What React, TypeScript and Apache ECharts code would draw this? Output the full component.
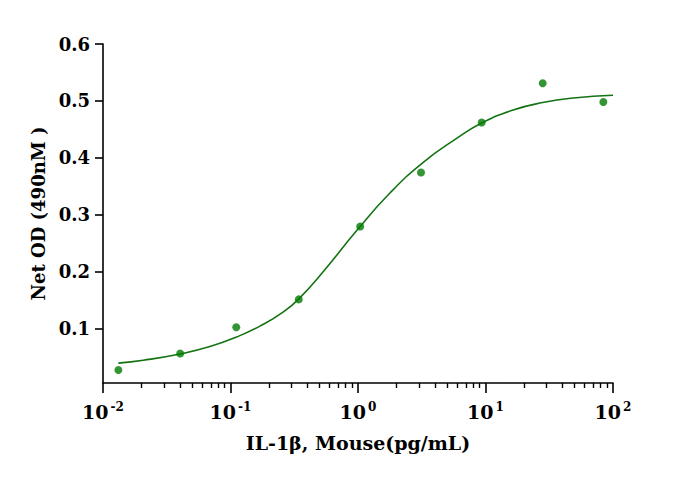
import React, { useEffect, useRef } from 'react';
import * as echarts from 'echarts';

// Measured points
const concentrations = [0.0132, 0.0403, 0.111, 0.343, 1.04, 3.12, 9.33, 28.1, 84];
const netOD = [0.027, 0.056, 0.102, 0.151, 0.279, 0.374, 0.462, 0.531, 0.498];

// Fitted curve
const curveX = [0.0132, 0.0207, 0.0402, 0.069, 0.112, 0.17, 0.26, 0.351, 0.535, 0.977, 1.78, 3.25, 5.94, 9.33, 16.5, 28.1, 48.9, 100];
const curveY = [0.039, 0.044, 0.055, 0.068, 0.085, 0.104, 0.129, 0.154, 0.2, 0.272, 0.338, 0.392, 0.434, 0.461, 0.484, 0.497, 0.505, 0.51];

// Axis ticks
const yTicks = [0.1, 0.2, 0.3, 0.4, 0.5, 0.6];
const xMinorTicks = [
  0.02, 0.03, 0.04, 0.05, 0.06, 0.07, 0.08, 0.09,
  0.2, 0.3, 0.4, 0.5, 0.6, 0.7, 0.8, 0.9,
  2, 3, 4, 5, 6, 7, 8, 9,
  20, 30, 40, 50, 60, 70, 80, 90,
];

const FONT = '"DejaVu Serif", serif';
const GREEN_PT = '#007a00';
const GREEN_LINE = '#137313';

export default function App() {
  const ref = useRef<HTMLDivElement>(null);

  useEffect(() => {
    document.body.style.margin = '0';
    if (!ref.current) return;
    const chart = echarts.init(ref.current, undefined, { renderer: 'svg' });
    const axisLine = { show: true, lineStyle: { color: '#000', width: 1.6 } };
    chart.setOption({
      animation: false,
      backgroundColor: '#fff',
      grid: { left: 103, right: 79, top: 44, bottom: 96, containLabel: false },
      xAxis: [
        {
          type: 'log',
          logBase: 10,
          min: 0.01,
          max: 100,
          position: 'bottom',
          name: 'IL-1β, Mouse(pg/mL)',
          nameLocation: 'middle',
          nameGap: 50,
          nameTextStyle: { fontFamily: FONT, fontWeight: 'bold', fontSize: 19, color: '#000' },
          axisLine,
          axisTick: { show: true, length: 10, lineStyle: { color: '#000', width: 1.6 } },
          minorTick: { show: false },
          splitLine: { show: false },
          axisLabel: {
            margin: 18,
            formatter: (v: number) => {
              const e = Math.round(Math.log10(v));
              return '{b|10}{s|' + e + '}';
            },
            rich: {
              b: { fontFamily: FONT, fontWeight: 'bold', fontSize: 19, color: '#000', lineHeight: 22 },
              s: { fontFamily: FONT, fontWeight: 'bold', fontSize: 12, color: '#000', verticalAlign: 'top', lineHeight: 22, padding: [0, 0, 0, 2] },
            },
          },
        },
        {
          type: 'log',
          logBase: 10,
          min: 0.01,
          max: 100,
          position: 'bottom',
          axisLine: { show: false },
          axisLabel: { show: false },
          splitLine: { show: false },
          axisTick: { show: true, length: 5, customValues: xMinorTicks, lineStyle: { color: '#000', width: 1.4 } },
        },
      ],
      yAxis: {
        type: 'value',
        min: 0.004,
        max: 0.6,
        name: 'Net OD (490nM )',
        nameLocation: 'middle',
        nameGap: 52,
        nameTextStyle: { fontFamily: FONT, fontWeight: 'bold', fontSize: 18, color: '#000' },
        axisLine,
        axisTick: { show: true, length: 8, customValues: yTicks, lineStyle: { color: '#000', width: 1.6 } },
        splitLine: { show: false },
        axisLabel: {
          customValues: yTicks,
          margin: 13,
          fontFamily: FONT,
          fontWeight: 'bold',
          fontSize: 18,
          color: '#000',
          formatter: (v: number) => v.toFixed(1),
        },
      },
      series: [
        {
          type: 'line',
          data: curveX.map((x, i) => [x, curveY[i]]),
          smooth: 0.5,
          showSymbol: false,
          symbol: 'none',
          lineStyle: { color: GREEN_LINE, width: 1.6 },
          z: 2,
        },
        {
          type: 'scatter',
          data: concentrations.map((x, i) => [x, netOD[i]]),
          symbol: 'circle',
          symbolSize: 8,
          itemStyle: { color: GREEN_PT },
          z: 3,
        },
      ],
    });
    return () => chart.dispose();
  }, []);

  return <div ref={ref} style={{ width: 692, height: 479 }} />;
}
